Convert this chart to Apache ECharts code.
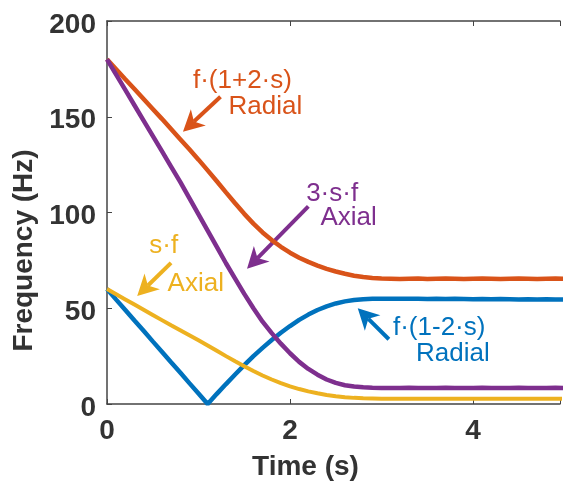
<!DOCTYPE html>
<html lang="en">
    <head>
        <meta charset="UTF-8">
        <title>Frequency vs time</title>
        <script src="https://cdn.jsdelivr.net/npm/echarts@6/dist/echarts.min.js"></script>
    </head>
    <body style="margin:0">
        <div id="main" style="width: 563px;height:486px;"></div>
        <script>
            // time axis (s)
            var time = [0, 0.1, 0.2, 0.3, 0.4, 0.5, 0.6, 0.7, 0.8, 0.9,
                1.0, 1.1, 1.2, 1.3, 1.4, 1.5, 1.6, 1.7, 1.8, 1.9,
                2.0, 2.1, 2.2, 2.3, 2.4, 2.5, 2.6, 2.7, 2.8, 2.9,
                3.0, 3.1, 3.2, 3.3, 3.4, 3.5, 3.6, 3.7, 3.8, 3.9,
                4.0, 4.1, 4.2, 4.3, 4.4, 4.5, 4.6, 4.7, 4.8, 4.9, 5.0];

            // f(1-2s) radial
            var blueVals = [60, 54.5, 49.1, 43.6, 38.2, 32.7, 27.3, 21.8, 16.4, 10.9,
                5.5, 0, 5.3, 10.4, 15.4, 20.3, 25, 29.3, 33.4, 37.2,
                40.7, 43.9, 46.7, 49.1, 51, 52.5, 53.6, 54.3, 54.7, 54.9,
                55, 55, 54.9, 55, 54.9, 54.8, 54.9, 54.8, 54.9, 54.8,
                54.7, 54.8, 54.7, 54.8, 54.7, 54.6, 54.7, 54.6, 54.7, 54.6, 54.6];
            // f(1+2s) radial
            var orangeVals = [180, 174.8, 169.6, 164.5, 159.3, 154.1, 148.9, 143.6, 138.3, 133.0,
                127.6, 122.0, 116.3, 110.5, 104.8, 99.3, 94.2, 89.6, 85.6, 82.1,
                79.0, 76.4, 74.2, 72.3, 70.6, 69.2, 68.0, 67.0, 66.3, 65.8,
                65.5, 65.4, 65.3, 65.4, 65.5, 65.3, 65.4, 65.5, 65.4, 65.3,
                65.4, 65.5, 65.4, 65.3, 65.4, 65.5, 65.4, 65.3, 65.4, 65.5, 65.4];
            // s*f axial
            var yellowVals = [60, 57.3, 54.6, 51.9, 49.2, 46.5, 43.8, 41.1, 38.5, 35.9,
                33.3, 30.6, 27.8, 25, 22.3, 19.7, 17.2, 14.9, 12.8, 10.9,
                9.2, 7.8, 6.6, 5.6, 4.7, 4.0, 3.5, 3.2, 3.0, 2.9,
                2.8, 2.8, 2.8, 2.7, 2.8, 2.8, 2.7, 2.8, 2.8, 2.7,
                2.8, 2.8, 2.7, 2.8, 2.8, 2.7, 2.8, 2.8, 2.7, 2.8, 2.8];
            // 3*s*f axial
            var purpleVals = [180, 172, 164, 156, 148, 140, 132, 124, 116, 107.5,
                99, 90.5, 82, 73.5, 65.5, 57.5, 50, 43, 37, 31.5,
                26.5, 22, 18.3, 15.3, 12.8, 11, 9.8, 9.1, 8.7, 8.5,
                8.4, 8.3, 8.4, 8.5, 8.4, 8.3, 8.4, 8.5, 8.4, 8.3,
                8.4, 8.5, 8.4, 8.3, 8.4, 8.5, 8.4, 8.3, 8.4, 8.5, 8.4];

            var yTicks = [0, 50, 100, 150, 200];
            var xTicks = [0, 2, 4];

            // annotations: text lines and arrow (tail -> tip), in data coords
            var notes = [
                {color: '#0072BD', lines: [['f·(1-2·s)', 3.63, 39.8], ['Radial', 3.78, 26.0]], tail: [3.08, 33.8], tip: [2.74, 50.0]},
                {color: '#D95319', lines: [['f·(1+2·s)', 1.48, 168.9], ['Radial', 1.73, 155.1]], tail: [1.24, 160.4], tip: [0.83, 142.2]},
                {color: '#EDB120', lines: [['s·f', 0.62, 82.7], ['Axial', 0.97, 63.0]], tail: [0.70, 73.7], tip: [0.33, 56.4]},
                {color: '#7E2F8E', lines: [['3·s·f', 2.46, 109.8], ['Axial', 2.64, 97.3]], tail: [2.20, 103.2], tip: [1.53, 70.6]}
            ];

            var font = 'Liberation Sans, Arial, sans-serif';

            function pairs(vals) {
                return time.map(function (t, i) { return [t, vals[i]]; });
            }

            function lineSeries(name, vals, color, width, nt) {
                return {
                    name: name,
                    type: 'line',
                    data: pairs(vals),
                    showSymbol: false,
                    lineStyle: {color: color, width: width},
                    itemStyle: {color: color},
                    markPoint: {
                        silent: true,
                        symbol: 'rect',
                        symbolSize: 1,
                        itemStyle: {color: 'rgba(0,0,0,0)'},
                        label: {
                            show: true, position: 'inside', color: color,
                            fontFamily: font, fontSize: 26
                        },
                        data: nt.lines.map(function (l) {
                            return {coord: [l[1], l[2]], label: {formatter: l[0]}};
                        })
                    }
                };
            }

            var myChart = echarts.init(document.getElementById('main'));

            var option = {
                animation: false,
                grid: {left: 107, top: 21, right: 0, bottom: 81},
                xAxis: [{
                    type: 'value',
                    min: 0,
                    max: 4.95,
                    interval: 2,
                    name: 'Time (s)',
                    nameLocation: 'middle',
                    nameGap: 49,
                    nameTextStyle: {fontFamily: font, fontSize: 28, fontWeight: 'bold', color: '#333', padding: [0, 56, 0, 0]},
                    axisLine: {lineStyle: {color: '#444', width: 1.5}},
                    axisTick: {inside: true, length: 5, lineStyle: {color: '#444'}},
                    axisLabel: {
                        margin: 13, fontFamily: font, fontSize: 28, fontWeight: 'bold', color: '#333',
                        formatter: function (v) { return xTicks.indexOf(v) >= 0 ? String(v) : ''; }
                    },
                    splitLine: {show: false}
                }, {
                    type: 'value',
                    position: 'top',
                    min: 0,
                    max: 4.95,
                    interval: 2,
                    axisLine: {show: true, lineStyle: {color: '#444', width: 1.5}},
                    axisTick: {inside: true, length: 5, lineStyle: {color: '#444'}},
                    axisLabel: {show: false},
                    splitLine: {show: false}
                }],
                yAxis: {
                    type: 'value',
                    min: yTicks[0],
                    max: yTicks[yTicks.length - 1],
                    interval: 50,
                    name: 'Frequency (Hz)',
                    nameLocation: 'middle',
                    nameGap: 68,
                    nameTextStyle: {fontFamily: font, fontSize: 28, fontWeight: 'bold', color: '#333', padding: [0, 76, 0, 0]},
                    axisLine: {show: true, lineStyle: {color: '#444', width: 1.5}},
                    axisTick: {show: true, inside: true, length: 5, lineStyle: {color: '#444'}},
                    axisLabel: {
                        margin: 11, color: '#333',
                        formatter: function (v) { return '{a|' + v + '}'; },
                        rich: {a: {fontFamily: font, fontSize: 28, fontWeight: 'bold', color: '#333', lineHeight: 36, verticalAlign: 'bottom'}}
                    },
                    splitLine: {show: false}
                },
                series: [
                    lineSeries('f(1-2s) Radial', blueVals, '#0072BD', 4.5, notes[0]),
                    lineSeries('f(1+2s) Radial', orangeVals, '#D95319', 4.5, notes[1]),
                    lineSeries('s·f Axial', yellowVals, '#EDB120', 4, notes[2]),
                    lineSeries('3·s·f Axial', purpleVals, '#7E2F8E', 4.5, notes[3])
                ]
            };

            myChart.setOption(option);

            // arrows drawn after layout, positioned through the grid's coordinate system
            var graphics = [];
            notes.forEach(function (nt) {
                var a = myChart.convertToPixel({gridIndex: 0}, nt.tail);
                var b = myChart.convertToPixel({gridIndex: 0}, nt.tip);
                var dx = b[0] - a[0], dy = b[1] - a[1];
                var len = Math.sqrt(dx * dx + dy * dy);
                var ux = dx / len, uy = dy / len, nx = -uy, ny = ux;
                var L = 21, W = 11, N = 15;
                var notch = [b[0] - ux * N, b[1] - uy * N];
                graphics.push({
                    type: 'line', silent: true,
                    shape: {x1: a[0], y1: a[1], x2: notch[0], y2: notch[1]},
                    style: {stroke: nt.color, lineWidth: 4}
                });
                graphics.push({
                    type: 'polygon', silent: true,
                    shape: {points: [
                        b,
                        [b[0] - ux * L + nx * W, b[1] - uy * L + ny * W],
                        notch,
                        [b[0] - ux * L - nx * W, b[1] - uy * L - ny * W]
                    ]},
                    style: {fill: nt.color}
                });
            });
            myChart.setOption({graphic: graphics});
        </script>
    </body>
</html>
